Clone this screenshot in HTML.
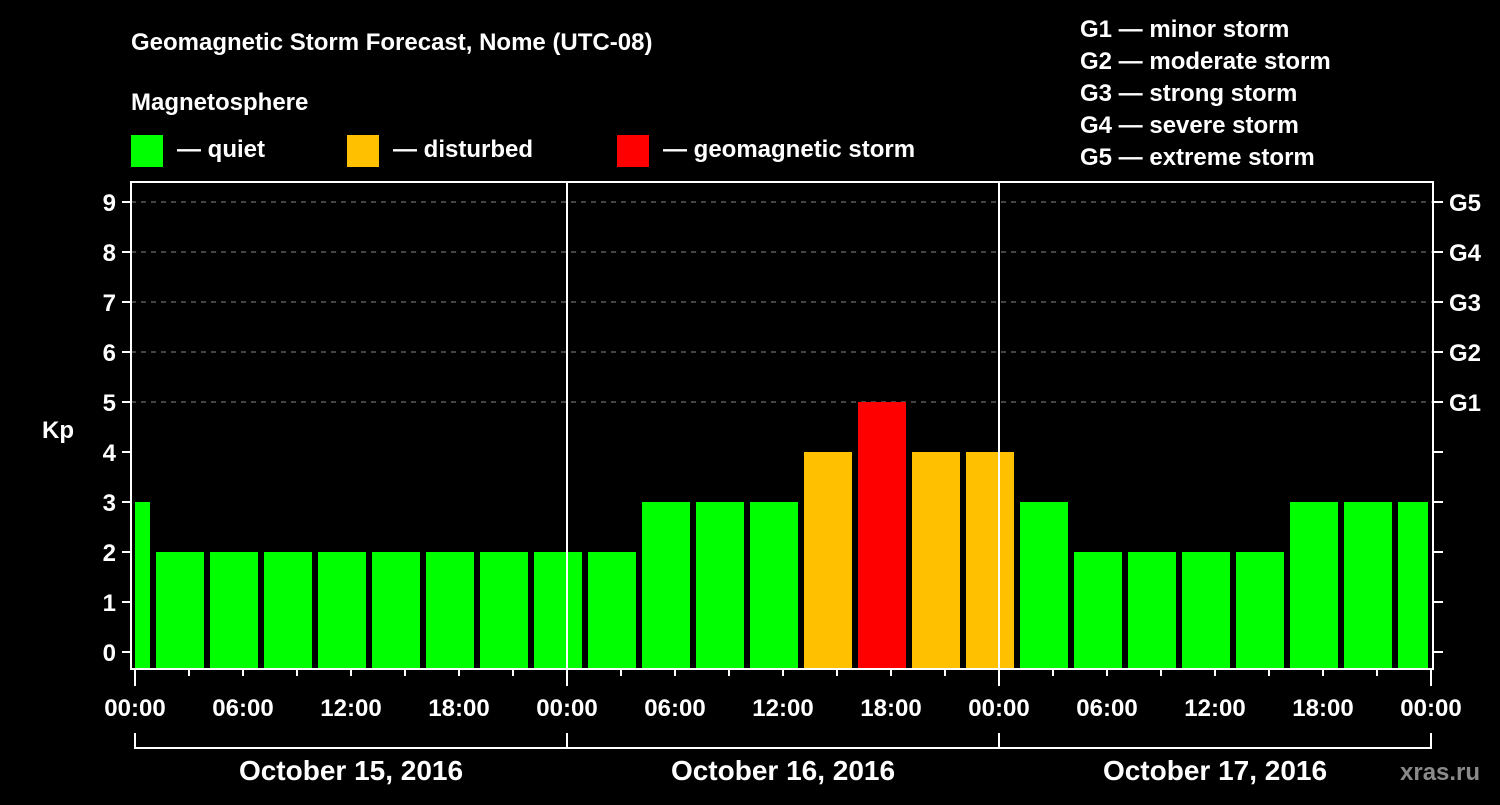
<!DOCTYPE html>
<html><head><meta charset="utf-8"><style>
body{margin:0;background:#000;}
svg text{font-family:"Liberation Sans",Arial,sans-serif;font-weight:bold;fill:#fff;}
</style></head><body>
<svg id="c" width="1500" height="800" xmlns="http://www.w3.org/2000/svg">
<rect width="1500" height="800" fill="#000"/>
<text x="131" y="50" font-size="24">Geomagnetic Storm Forecast, Nome (UTC-08)</text>
<text x="131" y="110" font-size="24">Magnetosphere</text>
<g><rect x="131" y="135" width="32" height="32" fill="#00ff00"/><text x="177" y="157" font-size="24">— quiet</text></g>
<g><rect x="347" y="135" width="32" height="32" fill="#ffc000"/><text x="393" y="157" font-size="24">— disturbed</text></g>
<g><rect x="617" y="135" width="32" height="32" fill="#ff0000"/><text x="663" y="157" font-size="24">— geomagnetic storm</text></g>
<g font-size="24">
<text x="1080" y="37">G1 — minor storm</text><text x="1080" y="69">G2 — moderate storm</text><text x="1080" y="101">G3 — strong storm</text><text x="1080" y="133">G4 — severe storm</text><text x="1080" y="165">G5 — extreme storm</text>
</g>
<text x="42" y="438" font-size="24">Kp</text>
<text x="1400" y="780" font-size="24" fill="#888" style="fill:#8a8a8a">xras.ru</text>
<g id="plot"></g>
</svg>
<script>
const kpValues=[3,2,2,2,2,2,2,2,2,2,3,3,3,4,5,4,4,3,2,2,2,2,3,3,3];
const barStartHours=[-2,1,4,7,10,13,16,19,22,25,28,31,34,37,40,43,46,49,52,55,58,61,64,67,70];
const yTicks=[0,1,2,3,4,5,6,7,8,9];
const gLabels=["G1","G2","G3","G4","G5"];
const gLevels=[5,6,7,8,9];
const timeLabels=["00:00","06:00","12:00","18:00","00:00","06:00","12:00","18:00","00:00","06:00","12:00","18:00","00:00"];
const dayLabels=["October 15, 2016","October 16, 2016","October 17, 2016"];
const NS="http://www.w3.org/2000/svg";
const L=131,T=182,R=1433,B=669,X0=135;
const xs=h=>X0+h*18, ys=v=>652-v*50;
const p=document.getElementById('plot');
function mk(t,a,par){const e=document.createElementNS(NS,t);for(const k in a)e.setAttribute(k,a[k]);(par||p).appendChild(e);return e;}
// grid
yTicks.forEach(v=>{if(v>=5){const e=mk('line',{x1:L,x2:R,y1:ys(v),y2:ys(v),stroke:'#888','stroke-dasharray':'5,5','stroke-width':1});

}});
// bars
kpValues.forEach((v,i)=>{let x1=xs(barStartHours[i])+3,x2=xs(barStartHours[i]+3)-3;x1=Math.max(x1,X0);x2=Math.min(x2,R-5);
const c=v>=5?'#ff0000':(v>=4?'#ffc000':'#00ff00');
const r=mk('rect',{x:x1,y:ys(v),width:x2-x1,height:B-1-ys(v),fill:c});

});
// day lines
[1,2].forEach(d=>{const e=mk('line',{x1:xs(24*d),x2:xs(24*d),y1:T,y2:B,stroke:'#fff','stroke-width':2});

});
// frame
const f=mk('rect',{x:L,y:T,width:R-L,height:B-T,fill:'none',stroke:'#fff','stroke-width':2});


// y ticks
yTicks.forEach(v=>{mk('line',{x1:122,x2:L,y1:ys(v),y2:ys(v),stroke:'#fff','stroke-width':2});mk('line',{x1:R,x2:1443,y1:ys(v),y2:ys(v),stroke:'#fff','stroke-width':2});
const t=mk('text',{x:116,y:ys(v)+9,'font-size':24,'text-anchor':'end'});t.textContent=v;

});
gLabels.forEach((g,i)=>{const t=mk('text',{x:1449,y:ys(gLevels[i])+9,'font-size':24});t.textContent=g;

});
// x ticks
for(let h=0;h<=72;h+=3){const big=h%24==0;mk('line',{x1:xs(h),x2:xs(h),y1:B,y2:B+(big?17:7),stroke:'#fff','stroke-width':2});}
timeLabels.forEach((s,i)=>{const t=mk('text',{x:xs(i*6),y:716,'font-size':24,'text-anchor':'middle'});t.textContent=s;

});
// date bracket
mk('path',{d:`M${xs(0)},733V748H${xs(72)}V733M${xs(24)},733V748M${xs(48)},733V748`,stroke:'#fff','stroke-width':2,fill:'none'});
dayLabels.forEach((s,i)=>{const t=mk('text',{x:xs(24*i+12),y:780,'font-size':28,'text-anchor':'middle'});t.textContent=s;

});
</script>
</body></html>
